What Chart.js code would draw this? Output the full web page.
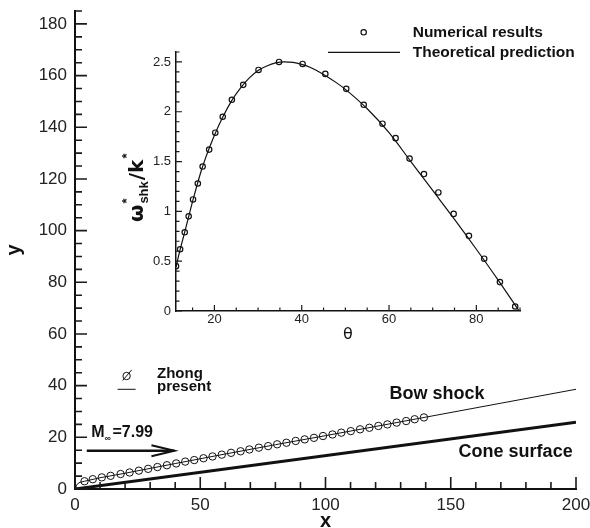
<!DOCTYPE html>
<html>
<head>
<meta charset="utf-8">
<script src="https://cdn.jsdelivr.net/npm/chart.js@4.4.1/dist/chart.umd.min.js"></script>
<style>
  html, body { margin: 0; padding: 0; background: #fff; }
  #wrap { position: relative; width: 590px; height: 528px; }
  #main { position: absolute; left: 0; top: 0; }
  #inset { position: absolute; left: 100px; top: 0; }
</style>
</head>
<body>
<div id="wrap">
  <canvas id="main" width="590" height="528"></canvas>
  <canvas id="inset" width="490" height="350"></canvas>
</div>
<script>
// main plot: bow shock and cone in x-y plane
const zhongX = [3.8, 7.1, 10.7, 14.2, 18.2, 21.8, 25.5, 29.2, 32.9, 36.7, 40.4, 44.0, 47.6, 51.3, 54.9, 58.6, 62.3, 66.1, 69.6,
                73.4, 77.1, 80.7, 84.4, 88.1, 91.7, 95.4, 99.0, 102.8, 106.3, 110.1, 113.8, 117.5, 121.1, 124.7, 128.4, 132.2, 135.6, 139.3];
const zhongY = [3.0, 3.8, 4.5, 5.1, 5.8, 6.4, 7.1, 7.8, 8.5, 9.2, 9.9, 10.6, 11.2, 11.9, 12.6, 13.3, 14.0, 14.6, 15.3,
                16.0, 16.6, 17.3, 17.9, 18.6, 19.2, 19.8, 20.5, 21.1, 21.8, 22.4, 23.1, 23.7, 24.4, 25.0, 25.7, 26.3, 27.0, 27.7];
const shockX = [0.3, 0.5, 1.0, 2.0, 3.8, 10, 20, 40, 60, 80, 100, 120, 140, 170, 200];
const shockY = [0, 1.2, 2.0, 2.6, 3.0, 4.35, 6.1, 9.85, 13.55, 17.15, 20.65, 24.2, 27.8, 33.2, 38.6];
const coneX = [0, 200];
const coneY = [0, 25.8];
const mainTicksX = [0, 50, 100, 150, 200];
const mainTicksY = [0, 20, 40, 60, 80, 100, 120, 140, 160, 180];

// inset: omega*_shk / k* against theta
const thetaNum = [11.2, 12.15, 13.2, 14.1, 15.1, 16.2, 17.3, 18.8, 20.2, 21.9, 24.0, 26.6, 30.1, 34.8, 40.2, 45.4, 50.2, 54.2,
                  58.5, 61.5, 64.7, 68.0, 71.3, 74.8, 78.3, 81.8, 85.4, 88.9];
const omegaNum = [0.45, 0.62, 0.79, 0.95, 1.12, 1.28, 1.45, 1.62, 1.79, 1.95, 2.12, 2.27, 2.42, 2.50, 2.48, 2.38, 2.23, 2.07,
                  1.88, 1.735, 1.53, 1.375, 1.19, 0.975, 0.755, 0.525, 0.29, 0.045];
const thetaTheory = [11.2, 12, 13, 14, 15, 16, 17, 18, 19, 20, 22, 24, 26, 28, 30, 32, 34, 36, 38, 40, 42, 45, 48, 50,
                     55, 60, 65, 70, 75, 80, 85, 89.8];
const omegaTheory = [0.44, 0.59, 0.76, 0.93, 1.10, 1.26, 1.41, 1.54, 1.655, 1.765, 1.955, 2.115, 2.24, 2.34, 2.415, 2.46, 2.49, 2.50,
                     2.495, 2.475, 2.445, 2.375, 2.29, 2.225, 2.03, 1.79, 1.50, 1.21, 0.92, 0.62, 0.31, 0];
const insetTicksX = [20, 40, 60, 80];
const insetTicksY = [0, 0.5, 1, 1.5, 2, 2.5];

const pts = (xs, ys) => xs.map((v, i) => ({x: v, y: ys[i]}));
const SANS = '"Liberation Sans", Arial, Helvetica, sans-serif';
const noPad = s => { s.paddingTop = 0; s.paddingBottom = 0; s.paddingLeft = 0; s.paddingRight = 0; };

// tecplot style ticks pointing into the plot
const inTicks = {
    id: 'inTicks',
    afterDraw(chart, args, o) {
        const {ctx, chartArea: a} = chart;
        const sx = chart.scales.x, sy = chart.scales.y;
        const each = (scale, step, fn) => {
            const n0 = Math.ceil(scale.min / step - 1e-6), n1 = Math.floor(scale.max / step + 1e-6);
            for (let i = n0; i <= n1; i++) fn(scale.getPixelForValue(i * step));
        };
        ctx.save();
        ctx.strokeStyle = '#1a1a1a';
        ctx.lineWidth = o.lw;
        ctx.beginPath();
        each(sx, o.xMinor, px => { ctx.moveTo(px, a.bottom); ctx.lineTo(px, a.bottom - o.minor); });
        each(sy, o.yMinor, py => { ctx.moveTo(a.left, py); ctx.lineTo(a.left + o.minor, py); });
        sx.ticks.forEach(t => { const px = sx.getPixelForValue(t.value); ctx.moveTo(px, a.bottom); ctx.lineTo(px, a.bottom - o.major); });
        sy.ticks.forEach(t => { const py = sy.getPixelForValue(t.value); ctx.moveTo(a.left, py); ctx.lineTo(a.left + o.major, py); });
        ctx.stroke();
        ctx.restore();
    }
};

const mainNotes = {
    id: 'mainNotes',
    afterDatasetsDraw(chart) {
        const {ctx} = chart;
        const X = v => chart.scales.x.getPixelForValue(v), Y = v => chart.scales.y.getPixelForValue(v);
        ctx.save();
        ctx.fillStyle = '#111';
        ctx.strokeStyle = '#111';
        ctx.font = 'bold 18px ' + SANS;
        ctx.textAlign = 'center';
        ctx.textBaseline = 'middle';
        ctx.fillText('Bow shock', X(144.5), Y(36.9));
        ctx.fillText('Cone surface', X(175.9), Y(14.3));

        // free stream Mach number with arrow
        ctx.textAlign = 'left';
        ctx.textBaseline = 'alphabetic';
        let tx = X(6.5), ty = Y(20.2);
        ctx.font = 'bold 16px ' + SANS;
        ctx.fillText('M', tx, ty);
        tx += ctx.measureText('M').width;
        ctx.font = 'bold 9px ' + SANS;
        ctx.fillText('\u221E', tx, ty + 4);
        tx += ctx.measureText('\u221E').width + 1.5;
        ctx.font = 'bold 16px ' + SANS;
        ctx.fillText('=7.99', tx, ty);

        const ax0 = X(4.7), ax1 = X(39.7), ay = Y(14.8);
        ctx.lineWidth = 2.6;
        ctx.beginPath();
        ctx.moveTo(ax0, ay); ctx.lineTo(ax1, ay);
        ctx.stroke();
        ctx.lineWidth = 2;
        ctx.beginPath();
        ctx.moveTo(ax1 - 23, ay - 5.5); ctx.lineTo(ax1, ay); ctx.lineTo(ax1 - 23, ay + 5.5);
        ctx.stroke();

        // legend
        const lx = X(20.6);
        const zy = 376, py = 389.3;
        ctx.lineWidth = 1;
        ctx.beginPath();
        ctx.arc(lx, zy, 3.7, 0, Math.PI * 2);
        ctx.moveTo(lx - 4, zy + 4.5); ctx.lineTo(lx + 5, zy - 6);
        ctx.moveTo(lx - 9, py); ctx.lineTo(lx + 9, py);
        ctx.stroke();
        ctx.font = 'bold 15px ' + SANS;
        ctx.fillText(chart.data.datasets[0].label, 157, 377.5);
        ctx.fillText(chart.data.datasets[1].label, 157, 391);
        ctx.restore();
    }
};

const insetNotes = {
    id: 'insetNotes',
    afterDatasetsDraw(chart) {
        const {ctx} = chart;
        ctx.save();
        ctx.fillStyle = '#111';
        ctx.strokeStyle = '#111';
        // legend (canvas is shifted 100px right)
        ctx.lineWidth = 1.2;
        ctx.beginPath();
        ctx.arc(263.7, 32.3, 2.7, 0, Math.PI * 2);
        ctx.stroke();
        ctx.beginPath();
        ctx.moveTo(228, 52.3); ctx.lineTo(300, 52.3);
        ctx.stroke();
        ctx.font = 'bold 15.5px ' + SANS;
        ctx.textBaseline = 'alphabetic';
        ctx.fillText(chart.data.datasets[0].label, 312.7, 37.3);
        ctx.fillText(chart.data.datasets[1].label, 312.7, 57);

        // rotated y title: omega*_shk / k*
        ctx.translate(43, 222);
        ctx.rotate(-Math.PI / 2);
        let x = 0;
        const big = 'bold 20px "DejaVu Sans", ' + SANS;
        const small = 'bold 13px ' + SANS;
        ctx.font = big; ctx.fillText('\u03C9', x, 0); x += ctx.measureText('\u03C9').width + 1;
        ctx.font = small;
        ctx.fillText('*', x, -12);
        ctx.fillText('shk', x, 5); x += ctx.measureText('shk').width + 1;
        ctx.font = big; ctx.fillText('/k', x, 0); x += ctx.measureText('/k').width + 1;
        ctx.font = small; ctx.fillText('*', x, -12);
        ctx.restore();
    }
};

new Chart(document.getElementById('main'), {
    type: 'scatter',
    data: {
        datasets: [{
            label: 'Zhong',
            data: pts(zhongX, zhongY),
            showLine: false,
            pointStyle: 'circle',
            pointRadius: 3.7,
            pointBorderWidth: 1,
            pointBorderColor: '#111',
            pointBackgroundColor: 'rgba(0,0,0,0)'
        }, {
            label: 'present',
            data: pts(shockX, shockY),
            showLine: true,
            borderColor: '#111',
            borderWidth: 1,
            pointRadius: 0
        }, {
            label: 'Cone surface',
            data: pts(coneX, coneY),
            showLine: true,
            borderColor: '#111',
            borderWidth: 3,
            pointRadius: 0
        }]
    },
    options: {
        responsive: false,
        animation: false,
        layout: { padding: { top: 11, right: 14, bottom: 0, left: 0 } },
        plugins: {
            legend: { display: false },
            tooltip: { enabled: false },
            inTicks: { lw: 1.6, major: 12, minor: 7, xMinor: 10, yMinor: 5 }
        },
        scales: {
            x: {
                type: 'linear', min: 0, max: 200,
                afterBuildTicks: s => { s.ticks = mainTicksX.map(v => ({value: v})); },
                afterFit: s => { s.height = 39; noPad(s); },
                grid: { display: false, drawTicks: false },
                border: { display: true, color: '#111', width: 2 },
                ticks: { padding: 6, color: '#222', font: { size: 17, family: SANS }, callback: v => String(v) },
                title: { display: true, text: 'x', color: '#111', padding: 0, font: { size: 20, weight: 'bold', family: SANS, lineHeight: 0.62 } }
            },
            y: {
                type: 'linear', min: 0, max: 185,
                afterBuildTicks: s => { s.ticks = mainTicksY.map(v => ({value: v})); },
                afterFit: s => { s.width = 75; noPad(s); },
                grid: { display: false, drawTicks: false },
                border: { display: true, color: '#111', width: 2 },
                ticks: { padding: 8, color: '#222', font: { size: 17, family: SANS }, callback: v => String(v) },
                title: { display: true, text: 'y', color: '#111', padding: { top: 2, bottom: 0 }, font: { size: 20, weight: 'bold', family: SANS } }
            }
        }
    },
    plugins: [inTicks, mainNotes]
});

new Chart(document.getElementById('inset'), {
    type: 'scatter',
    data: {
        datasets: [{
            label: 'Numerical results',
            data: pts(thetaNum, omegaNum),
            showLine: false,
            pointStyle: 'circle',
            pointRadius: 2.7,
            pointBorderWidth: 1.2,
            pointBorderColor: '#111',
            pointBackgroundColor: 'rgba(0,0,0,0)'
        }, {
            label: 'Theoretical prediction',
            data: pts(thetaTheory, omegaTheory),
            showLine: true,
            cubicInterpolationMode: 'monotone',
            borderColor: '#111',
            borderWidth: 1.2,
            pointRadius: 0
        }]
    },
    options: {
        responsive: false,
        animation: false,
        layout: { padding: { top: 52, right: 70, bottom: 0, left: 0 } },
        plugins: {
            legend: { display: false },
            tooltip: { enabled: false },
            inTicks: { lw: 1.2, major: 6, minor: 3.5, xMinor: 5, yMinor: 0.1 }
        },
        scales: {
            x: {
                type: 'linear', min: 11.2, max: 90,
                afterBuildTicks: s => { s.ticks = insetTicksX.map(v => ({value: v})); },
                afterFit: s => { s.height = 39; noPad(s); },
                grid: { display: false, drawTicks: false },
                border: { display: true, color: '#111', width: 1.5 },
                ticks: { padding: 1, color: '#222', font: { size: 13, family: SANS }, callback: v => String(v) },
                title: { display: true, text: '\u03B8', color: '#111', padding: { top: 0, bottom: 6 }, font: { size: 16, family: '"DejaVu Sans", ' + SANS } }
            },
            y: {
                type: 'linear', min: 0, max: 2.6,
                afterBuildTicks: s => { s.ticks = insetTicksY.map(v => ({value: v})); },
                afterFit: s => { s.width = 76; noPad(s); },
                grid: { display: false, drawTicks: false },
                border: { display: true, color: '#111', width: 1.5 },
                ticks: { padding: 5, color: '#222', font: { size: 13, family: SANS }, callback: v => String(v) }
            }
        }
    },
    plugins: [inTicks, insetNotes]
});
</script>
</body>
</html>
